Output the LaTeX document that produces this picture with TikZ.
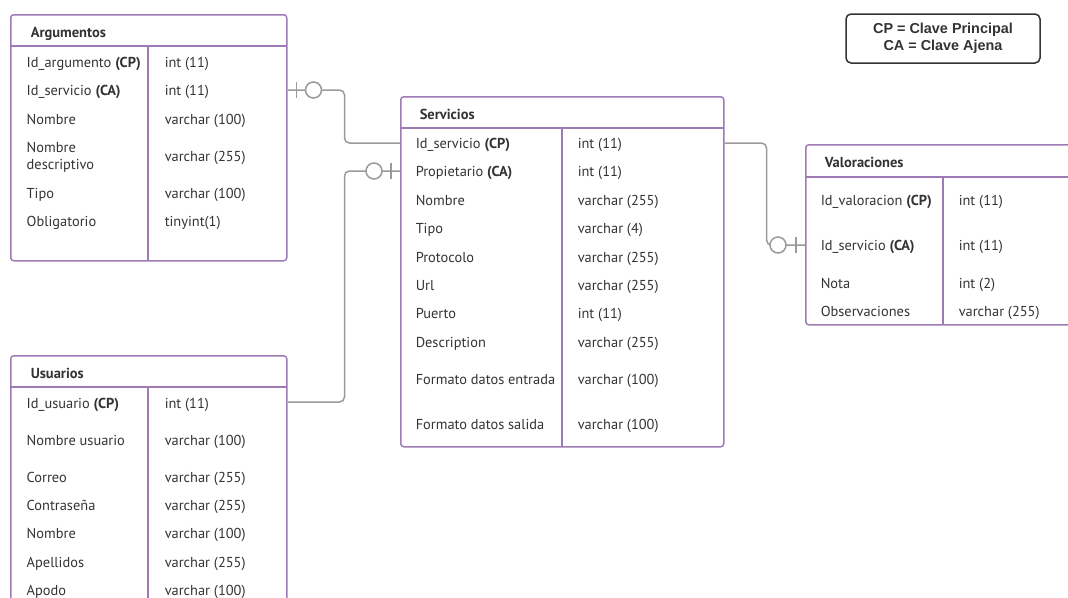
\documentclass[tikz,border=0pt]{standalone}
\usepackage{fontspec}
\setmainfont{PT Sans}
\newfontfamily\leyendafont{Liberation Sans}
\usetikzlibrary{positioning}
\definecolor{lila}{HTML}{9E7BB5}
\definecolor{gris}{HTML}{9A9A9A}
\definecolor{texto}{HTML}{333333}
\tikzset{every picture/.style={line width=1.5pt}}
\tikzset{
  tabla/.style={draw=lila, rounded corners=3pt, inner sep=0pt, anchor=north west},
  linea/.style={draw=lila},
  titulo/.style={anchor=base west, inner sep=0pt, text=texto, font=\fontsize{14.5}{17}\selectfont\bfseries},
  campo/.style={anchor=base west, inner sep=0pt, text=texto, font=\fontsize{14.4}{17}\selectfont},
  relacion/.style={draw=gris, rounded corners=5pt},
  marca/.style={draw=gris, fill=white},
  leyenda/.style={draw=texto, rounded corners=5pt, minimum width=194pt, minimum height=49pt,
    align=center, text=texto, font=\leyendafont\bfseries\fontsize{14.4}{16.5}\selectfont}
}

\begin{document}
\begin{tikzpicture}[x=1pt,y=-1pt]
  \useasboundingbox (0,0) rectangle (1068,597);
  \clip (0,0) rectangle (1068,597);

  % Argumentos
  \node[tabla, minimum width=276pt, minimum height=246pt] (arg) at (10,14) {};
  \draw[linea] (10,46) -- (286,46);
  \draw[linea] (148,46) -- (148,260);
  \node[titulo] (argT) at (30,37) {Argumentos};
  \node[campo] (arg1) at (26,67) {Id\_argumento \textbf{(CP)}};
  \node[campo] (arg2) at (26,95) {Id\_servicio \textbf{(CA)}};
  \node[campo] (arg3) at (26,124) {Nombre};
  \node[campo, align=left] (arg4) at (26,169) {Nombre\\descriptivo};
  \node[campo] (arg5) at (26,198) {Tipo};
  \node[campo] (arg6) at (26,226) {Obligatorio};
  \node[campo] (arg1t) at (164,67) {int (11)};
  \node[campo] (arg2t) at (164,95) {int (11)};
  \node[campo] (arg3t) at (164,124) {varchar (100)};
  \node[campo] (arg4t) at (164,161) {varchar (255)};
  \node[campo] (arg5t) at (164,198) {varchar (100)};
  \node[campo] (arg6t) at (164,226) {tinyint(1)};

  % Usuarios
  \node[tabla, minimum width=276pt, minimum height=262pt] (usu) at (10,355) {};
  \draw[linea] (10,387) -- (286,387);
  \draw[linea] (148,387) -- (148,610);
  \node[titulo] (usuT) at (30,378) {Usuarios};
  \node[campo] (usu1) at (26,408) {Id\_usuario \textbf{(CP)}};
  \node[campo] (usu2) at (26,445) {Nombre usuario};
  \node[campo] (usu3) at (26,482) {Correo};
  \node[campo] (usu4) at (26,510) {Contraseña};
  \node[campo] (usu5) at (26,538) {Nombre};
  \node[campo] (usu6) at (26,567) {Apellidos};
  \node[campo] (usu7) at (26,595) {Apodo};
  \node[campo] (usu1t) at (164,408) {int (11)};
  \node[campo] (usu2t) at (164,445) {varchar (100)};
  \node[campo] (usu3t) at (164,482) {varchar (255)};
  \node[campo] (usu4t) at (164,510) {varchar (255)};
  \node[campo] (usu5t) at (164,538) {varchar (100)};
  \node[campo] (usu6t) at (164,567) {varchar (255)};
  \node[campo] (usu7t) at (164,595) {varchar (100)};

  % Servicios
  \node[tabla, minimum width=323pt, minimum height=350pt] (ser) at (400,96) {};
  \draw[linea] (400,128) -- (723,128);
  \draw[linea] (562,128) -- (562,446);
  \node[titulo] (serT) at (419,119) {Servicios};
  \node[campo] (ser1) at (415,148) {Id\_servicio \textbf{(CP)}};
  \node[campo] (ser2) at (415,176) {Propietario \textbf{(CA)}};
  \node[campo] (ser3) at (415,205) {Nombre};
  \node[campo] (ser4) at (415,233) {Tipo};
  \node[campo] (ser5) at (415,262) {Protocolo};
  \node[campo] (ser6) at (415,290) {Url};
  \node[campo] (ser7) at (415,318) {Puerto};
  \node[campo] (ser8) at (415,347) {Description};
  \node[campo] (ser9) at (415,384) {Formato datos entrada};
  \node[campo] (ser10) at (415,429) {Formato datos salida};
  \node[campo] (ser1t) at (577,148) {int (11)};
  \node[campo] (ser2t) at (577,176) {int (11)};
  \node[campo] (ser3t) at (577,205) {varchar (255)};
  \node[campo] (ser4t) at (577,233) {varchar (4)};
  \node[campo] (ser5t) at (577,262) {varchar (255)};
  \node[campo] (ser6t) at (577,290) {varchar (255)};
  \node[campo] (ser7t) at (577,318) {int (11)};
  \node[campo] (ser8t) at (577,347) {varchar (255)};
  \node[campo] (ser9t) at (577,384) {varchar (100)};
  \node[campo] (ser10t) at (577,429) {varchar (100)};

  % Valoraciones
  \node[tabla, minimum width=280pt, minimum height=180pt] (val) at (805,144) {};
  \draw[linea] (805,177) -- (1085,177);
  \draw[linea] (943,177) -- (943,324);
  \node[titulo] (valT) at (824,167) {Valoraciones};
  \node[campo] (val1) at (820,205) {Id\_valoracion \textbf{(CP)}};
  \node[campo] (val2) at (820,250) {Id\_servicio \textbf{(CA)}};
  \node[campo] (val3) at (820,288) {Nota};
  \node[campo] (val4) at (820,316) {Observaciones};
  \node[campo] (val1t) at (958,205) {int (11)};
  \node[campo] (val2t) at (958,250) {int (11)};
  \node[campo] (val3t) at (958,288) {int (2)};
  \node[campo] (val4t) at (958,316) {varchar (255)};

  % leyenda
  \node[leyenda] (ley) at (943,38.5) {CP = Clave Principal\\CA = Clave Ajena};

  % relaciones
  \coordinate (r1) at (arg.east |- 0,90);
  \coordinate (r2) at (ser.west |- 0,171);
  \coordinate (r3) at (val.west |- 0,245);
  \draw[relacion] (r1) -- ++(57,0) |- (ser.west |- 0,143);
  \draw[relacion] (usu.east |- 0,402) -- ++(57,0) |- (r2);
  \draw[relacion] (ser.east |- 0,143) -- ++(42,0) |- (r3);
  \draw[marca] (r1) ++(9,-8) -- ++(0,16);
  \draw[marca] (r1) ++(26,0) circle (8);
  \draw[marca] (r2) ++(-9,-8) -- ++(0,16);
  \draw[marca] (r2) ++(-26,0) circle (8);
  \draw[marca] (r3) ++(-9,-8) -- ++(0,16);
  \draw[marca] (r3) ++(-27,0) circle (8);
\end{tikzpicture}
\end{document}
